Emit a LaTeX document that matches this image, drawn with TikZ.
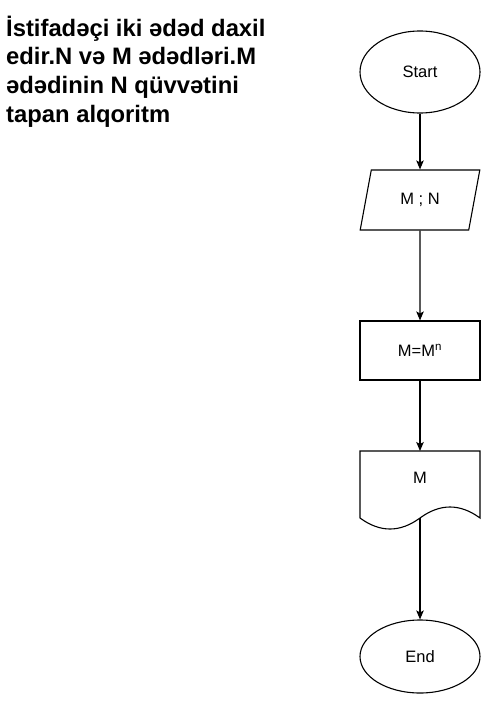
\documentclass[tikz,border=0pt]{standalone}
\usepackage{fontspec}
\setmainfont{Liberation Sans}
\usetikzlibrary{shapes.geometric,arrows.meta}

\begin{document}
\begin{tikzpicture}[x=1pt, y=-1pt,
    every node/.style={
        font=\fontsize{16.5}{19}\selectfont
    },
    outline/.style={
        draw,
        line width=1.1pt
    },
    terminal/.style={
        outline,
        ellipse,
        inner sep=0pt,
        minimum width=120pt
    },
    io/.style={
        outline,
        trapezium,
        trapezium left angle=71.57,
        trapezium right angle=108.43,
        trapezium stretches=true,
        inner sep=0pt,
        minimum width=120pt,
        minimum height=60pt
    },
    process/.style={
        outline,
        rectangle,
        inner sep=0pt,
        minimum width=120pt,
        minimum height=59pt
    },
    docbox/.style={
        inner sep=0pt,
        outer sep=0pt,
        minimum width=120pt,
        minimum height=67pt
    },
    arrow/.style={
        line width=1.1pt,
        -{Stealth[length=9pt,width=7.5pt,inset=2pt]}
    },
    title/.style={
        anchor=base west,
        align=left,
        inner sep=0pt,
        font=\fontsize{23.8}{28.7}\selectfont\bfseries
    }
]
\useasboundingbox (0,0) rectangle (481,701);

% --- Title ---
\node[title] (title) at (6,122.1) {İstifadəçi iki ədəd daxil\\edir.N və M ədədləri.M\\ədədinin N qüvvətini\\tapan alqoritm};

% --- Shapes ---
\node[terminal, minimum height=82pt] (start) at (420,72) {Start};
\node[io] (input) at (420,200) {M ; N};
\node[process] (power) at (420,350.5) {M=M\textsuperscript{n}};
\node[docbox] (out) at (420,484.5) {};
\node (outtext) at (420,478) {M};
\draw[outline] (out.north west) -- (out.north east) -- (out.south east)
    .. controls (460,503.33) and (440,503.33) .. (out.south)
    .. controls (400,532.67) and (380,532.67) .. (out.south west) -- cycle;
\node[terminal, minimum height=73pt] (stop) at (420,656.5) {End};

% --- Arrows ---
\draw[arrow] (start) -- (input);
\draw[arrow] (input) -- (power);
\draw[arrow] (power) -- (out.north);
\draw[arrow] (out.south) -- (stop);

\end{tikzpicture}
\end{document}
